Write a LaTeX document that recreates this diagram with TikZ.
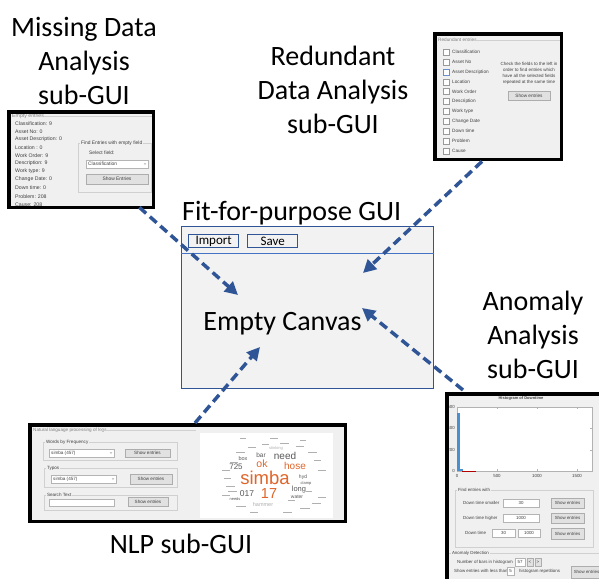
\documentclass[tikz,border=0pt]{standalone}
\usepackage{fontspec}
\setmainfont{Carlito}
\newfontfamily\uifont{Liberation Sans}
\usetikzlibrary{arrows.meta,calc}
\definecolor{flowblue}{HTML}{2F5597}
\definecolor{sepblue}{HTML}{4472C4}
\definecolor{guibg}{HTML}{F2F2F2}
\definecolor{winbg}{HTML}{F0F0F0}
\definecolor{uitext}{HTML}{404040}
\definecolor{grpline}{HTML}{D0D0D0}
\definecolor{btnfill}{HTML}{E1E1E1}
\definecolor{btnline}{HTML}{ADADAD}
\definecolor{tbline}{HTML}{B4B4B4}
\definecolor{cloudorange}{HTML}{E0652A}
\definecolor{clouddark}{HTML}{595959}
\definecolor{cloudlight}{HTML}{B0B0B0}
\definecolor{histblue}{HTML}{4A90D0}
\newcommand\uisz{5}
\newcommand\uiButton[5]{%
  \draw[btn] (#1,#2) rectangle (#3,#4);
  \node[ui, anchor=center] at ({(#1+#3)/2},{(#2+#4)/2}) {#5};}
\newcommand\uiTextbox[5]{%
  \draw[tbox] (#1,#2) rectangle (#3,#4);
  \node[ui, anchor=center] at ({(#1+#3)/2},{(#2+#4)/2}) {#5};}
\newcommand\uiCombo[5]{%
  \draw[tbox] (#1,#2) rectangle (#3,#4);
  \node[ui] at ({#1+2},{(#2+#4)/2}) {#5};
  \draw[gray, line width=0.3pt] ({#3-4},{(#2+#4)/2-0.8}) -- ({#3-3},{(#2+#4)/2+0.4}) -- ({#3-2},{(#2+#4)/2-0.8});}
\newcommand\uiGroup[5]{%
  \draw[grpline, line width=0.4pt] (#1,#2) rectangle (#3,#4);
  \node[ui, fill=winbg, inner xsep=0.8pt] at ({#1+2},#2) {#5};}
\begin{document}
\begin{tikzpicture}[x=1pt,y=-1pt,
  lbl/.style={font=\fontsize{28}{34}\selectfont, align=center, inner sep=0},
  shotbg/.style={fill=winbg, inner sep=0, anchor=north west},
  shotframe/.style={draw=black, line width=3.5pt},
  ui/.style={font=\uifont\fontsize{\uisz}{\uisz}\selectfont, text=uitext, inner sep=0, anchor=west},
  btn/.style={draw=btnline, fill=btnfill, line width=0.4pt},
  tbox/.style={draw=tbline, fill=white, line width=0.4pt},
  cbox/.style={draw=gray!80, fill=white, line width=0.4pt},
  cw/.style={inner sep=0, anchor=center, font=\uifont\fontsize{#1}{#1}\selectfont},
  guibtn/.style={draw=flowblue, line width=1.3pt, inner sep=0, anchor=north west, minimum width=50pt, minimum height=13pt, font=\fontsize{13}{13}\selectfont},
  flow/.style={draw=flowblue, line width=3.5pt, dash pattern=on 9pt off 5pt, -{Triangle[length=13pt,width=13pt]}}
]
\useasboundingbox (0,0) rectangle (599,578);
\clip (0,0) rectangle (599,578);

% ---------- labels (base = last line) ----------
\node[lbl, anchor=base] (lmiss) at (84,104) {Missing Data\\Analysis\\sub-GUI};
\node[lbl, anchor=base] (lred) at (333,133) {Redundant\\Data Analysis\\sub-GUI};
\node[lbl, anchor=base] (lano) at (533,378) {Anomaly\\Analysis\\sub-GUI};
\node[lbl, anchor=base] (lnlp) at (181,553) {NLP sub-GUI};
\node[lbl, anchor=base west] (ltitle) at (182,220) {Fit-for-purpose GUI};

% ---------- central GUI ----------
\node[draw=flowblue, line width=1.3pt, fill=guibg, inner sep=0, anchor=north west, minimum width=252pt, minimum height=162pt] (gui) at (181,226) {};
\draw[sepblue, line width=1pt] ($(gui.north west)+(0,27)$) -- ($(gui.north east)+(0,27)$);
\node[guibtn] (bimport) at (188,234) {Import};
\node[guibtn] (bsave) at (247,234) {Save};
\node[lbl, anchor=base] (lcanvas) at (282.5,330) {Empty Canvas};

% ---------- missing data screenshot ----------
\node[shotbg, minimum width=144pt, minimum height=95pt] (ml) at (9,112) {};
\begin{scope}
\renewcommand\uisz{5.2}
\clip (ml.north west) rectangle (ml.south east);
\node[ui, text=gray] (mlhead) at (12,116.5) {Empty entries};
\draw[grpline, line width=0.4pt] (44,116.5) -- (153,116.5);
\foreach \t/\y in {Classification: 9/124, Asset No: 0/132, Asset Description: 0/139.5, Location : 0/148, Work Order: 9/156, Description: 9/163.5, Work type: 9/171.5, Change Date: 0/179.5, Down time: 0/188, Problem: 208/197, Cause: 208/204.5}
  \node[ui] at (15,\y) {\t};
\renewcommand\uisz{4.9}
\uiGroup{78}{143}{151}{192}{Find Entries with empty field}
\node[ui] at (89,153) {Select field:};
\uiCombo{86}{160}{148}{168}{Classification}
\uiButton{86}{174}{148}{184}{Show Entries}
\end{scope}
\draw[shotframe] (ml.north west) rectangle (ml.south east);

% ---------- redundant data screenshot ----------
\node[shotbg, minimum width=126pt, minimum height=125pt] (rd) at (435,34) {};
\begin{scope}
\renewcommand\uisz{4.7}
\clip (rd.north west) rectangle (rd.south east);
\node[ui, text=gray] (rdhead) at (438,40) {Redundant entries};
\draw[grpline, line width=0.4pt] (474,40) -- (561,40);
\foreach \t/\y in {Classification/52, Asset No/62, Asset Description/72, Location/82, Work Order/91.5, Description/101.5, Work type/111, Change Date/121, Down time/131, Problem/141, Cause/151}
{ \draw[cbox] (443,\y-3) rectangle (449,\y+3);
  \node[ui] at (452,\y) {\t}; }
\draw[sepblue!80, line width=0.5pt] (443,69) rectangle (449,75);
\node[ui, anchor=north, align=center, font=\uifont\fontsize{4.5}{5.7}\selectfont] (rdhelp) at (529,62.5) {Check the fields to the left in\\order to find entries which\\have all the selected fields\\repeated at the same time};
\uiButton{508}{91}{550}{100}{Show entries}
\end{scope}
\draw[shotframe] (rd.north west) rectangle (rd.south east);

% ---------- NLP screenshot ----------
\node[shotbg, minimum width=315pt, minimum height=96pt] (nlp) at (30,425) {};
\begin{scope}
\renewcommand\uisz{4.6}
\clip (nlp.north west) rectangle (nlp.south east);
\node[ui, text=gray] (nlphead) at (33,430.5) {Natural language processing of logs};
\draw[grpline, line width=0.4pt] (99,430.5) -- (196,430.5);
\uiGroup{43}{442}{177}{460}{Words by Frequency}
\uiCombo{49}{449}{114}{457}{simba (457)}
\uiButton{125}{449}{170}{457.5}{Show entries}
\uiGroup{44}{468}{177}{487}{Typos}
\uiCombo{51}{475}{116}{483}{simba (457)}
\uiButton{130}{474}{172}{484}{Show entries}
\uiGroup{44}{495}{177}{510}{Search Text}
\uiTextbox{49}{499}{114}{506}{}
\uiButton{128}{497}{168}{506}{Show entries}
\fill[white] (200,433) rectangle (333,518);
\foreach \x/\y/\w in {222/470/8, 224/478/7, 226/486/9, 230/462/8, 236/452/9, 248/447/8, 262/444/7, 280/443/9, 296/446/8, 308/452/9, 314/460/7, 318/470/8, 318/497/8, 312/503/9, 300/508/10, 283/512/9, 250/512/8, 236/506/10, 222/495/8, 228/491/9, 288/500/7, 306/491/6, 240/438/6, 270/438/8, 300/440/6}
  \fill[cloudlight] (\x,\y) rectangle ++(\w,1.3);
\node[cw=18.5, text=cloudorange] (wsimba) at (265,478) {simba};
\node[cw=14.5, text=cloudorange] (w17) at (269,493.5) {17};
\node[cw=10.5, text=cloudorange] (wok) at (262,463.5) {ok};
\node[cw=10, text=cloudorange] (whose) at (295,465.5) {hose};
\node[cw=10, text=clouddark] (wneed) at (285,455.5) {need};
\node[cw=8, text=clouddark] (w725) at (236,466.5) {725};
\node[cw=8.5, text=clouddark] (w017) at (247,493.5) {017};
\node[cw=7.5, text=clouddark] (wlong) at (299,490) {long};
\node[cw=6.5, text=clouddark] (wbar) at (261,455) {bar};
\node[cw=5.5, text=clouddark] (wbox) at (243,458.5) {box};
\node[cw=5, text=clouddark] (whyd) at (303,477) {hyd};
\node[cw=5, text=clouddark] (wwater) at (297,497) {water};
\node[cw=5.5, text=cloudlight] (whammer) at (263,505) {hammer};
\node[cw=4, text=clouddark] (wclamp) at (306,483.5) {clamp};
\node[cw=4, text=cloudlight] (wstink) at (276,448) {stinking};
\node[cw=4, text=clouddark] (wneeds) at (235,499.5) {needs};
\end{scope}
\draw[shotframe] (nlp.north west) rectangle (nlp.south east);

% ---------- anomaly screenshot ----------
\node[shotbg, minimum width=170pt, minimum height=200pt] (an) at (447,394) {};
\begin{scope}
\renewcommand\uisz{4.4}
\clip (an.north west) rectangle (an.south east);
\node[ui, anchor=center, font=\uifont\fontsize{4}{4}\selectfont\bfseries] (anhead) at (521,398.5) {Histogram of Downtime};
\draw[fill=white, draw=gray!60, line width=0.4pt] (457,407) rectangle (592,471);
\foreach \v/\y in {600/407, 400/428.3, 200/449.7, 0/471}
{ \node[ui, anchor=east] at (455,\y) {\v};
  \draw[gray!60, line width=0.3pt] (457,\y) -- (459,\y) (592,\y) -- (590,\y); }
\foreach \v/\x in {0/457, 500/497, 1000/537, 1500/577}
{ \node[ui, anchor=north] at (\x,474) {\v};
  \draw[gray!60, line width=0.3pt] (\x,471) -- (\x,469) (\x,407) -- (\x,409); }
\fill[histblue] (457.4,413) rectangle (460,471);
\fill[histblue] (460,469) rectangle (462.5,471);
\draw[red!70!black, line width=0.3pt] (462,470.7) -- (476,470.7);
\uiGroup{455}{490}{593}{547}{Find entries with}
\node[ui] at (463,503) {Down time smaller};
\uiTextbox{503}{499}{539}{507}{30}
\uiButton{551}{498}{584}{508}{Show entries}
\node[ui] at (463,518) {Down time higher};
\uiTextbox{503}{514}{539}{522}{1000}
\uiButton{551}{513}{584}{523}{Show entries}
\node[ui] at (465,533) {Down time};
\uiTextbox{492}{529}{515}{537}{30}
\uiTextbox{518}{529}{540}{537}{1000}
\uiButton{551}{528}{584}{539}{Show entries}
\draw[grpline, line width=0.4pt] (447,553) -- (610,553);
\node[ui, fill=winbg, inner xsep=0.8pt] (andet) at (451,553) {Anomaly Detection};
\node[ui] at (457,562) {Number of bars in histogram};
\uiTextbox{515}{558}{525}{566}{57}
\uiButton{527}{558}{533}{566}{<}
\uiButton{535}{558}{541}{566}{>}
\node[ui] at (454,571) {Show entries with less than};
\uiTextbox{507}{567}{514}{575}{5}
\node[ui] at (519,571) {histogram repetitions};
\uiButton{571}{566}{602}{578}{Show entries}
\end{scope}
\draw[shotframe] (an.north west) rectangle (an.south east);

% ---------- connectors ----------
\coordinate (t1) at ($(ml.south east)+(-14,0)$);
\coordinate (h1) at (238,295);
\coordinate (t2) at ($(rd.south west)+(47,2)$);
\coordinate (h2) at (363,273);
\coordinate (t3) at ($(an.north west)+(16,-4)$);
\coordinate (h3) at (362,308);
\coordinate (t4) at ($(nlp.north west)+(165,-2)$);
\coordinate (h4) at (260,347);
\draw[flow] (t1) -- (h1);
\draw[flow] (t2) -- (h2);
\draw[flow] (t3) -- (h3);
\draw[flow] (t4) -- (h4);
\end{tikzpicture}
\end{document}
